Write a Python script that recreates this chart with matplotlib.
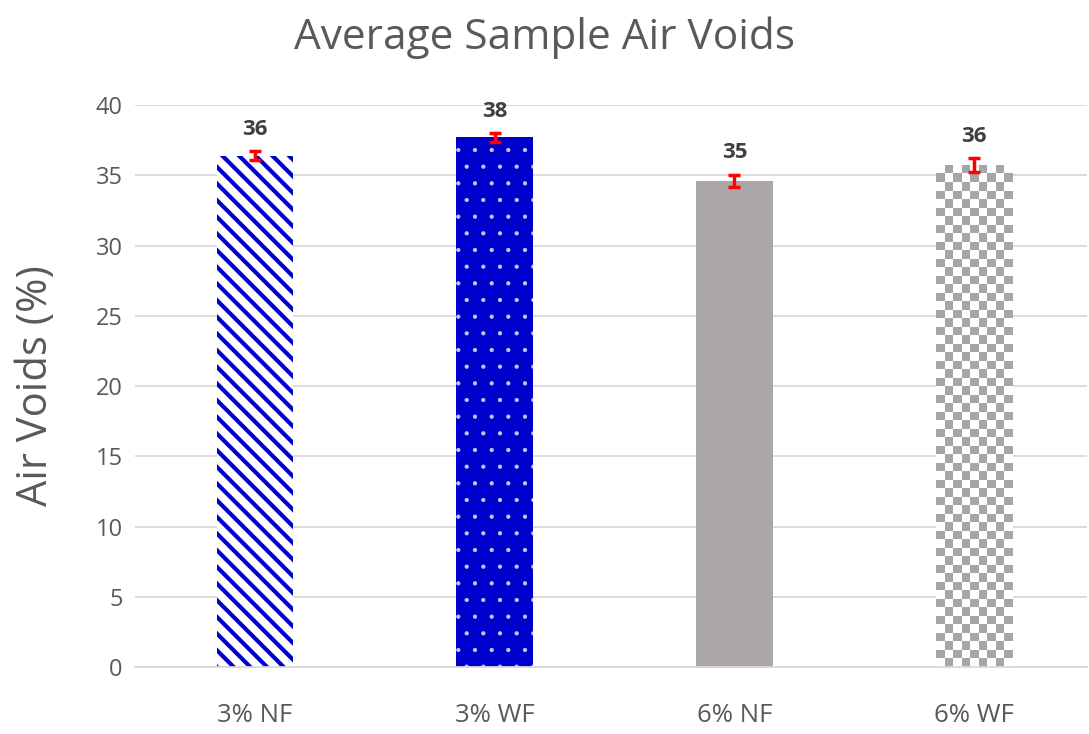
import numpy as np
import matplotlib
matplotlib.use("Agg")
import matplotlib.pyplot as plt

categories = ["3% NF", "3% WF", "6% NF", "6% WF"]
air_voids = [36.4, 37.7, 34.6, 35.7]
errors = [0.3, 0.3, 0.45, 0.5]
labels = ["36", "38", "35", "36"]

plt.rcParams['font.family'] = ['Open Sans', 'DejaVu Sans']

blue = "#0000CC"
grey = "#ABA7A7"
text_grey = "#595959"

fig, ax = plt.subplots(figsize=(10.89, 7.34), dpi=100)
fig.subplots_adjust(left=0.124, right=0.998, top=0.857, bottom=0.091)

x = np.arange(len(categories))
width = 0.32

bars = ax.bar(x, air_voids, width, zorder=2, linewidth=0)
# 3% NF: blue diagonal stripes on white
bars[0].set_facecolor("white")
bars[0].set_edgecolor(blue)
bars[0].set_hatch("\\\\")
# 3% WF: solid blue with white dots
bars[1].set_facecolor(blue)
bars[1].set_edgecolor("#C8C8F0")
bars[1].set_hatch(".")
# 6% NF: plain grey
bars[2].set_facecolor(grey)
# 6% WF: grey/white checkerboard
bars[3].set_facecolor("white")
if hasattr(bars[0], "set_hatch_linewidth"):
    bars[0].set_hatch_linewidth(3.0)
    bars[1].set_hatch_linewidth(0.6)
else:
    plt.rcParams['hatch.linewidth'] = 2.0

b = bars[3]
nrow, ncol = 59, 9
checker = (np.indices((nrow, ncol)).sum(axis=0) % 2).astype(float)
ax.imshow(checker, cmap=matplotlib.colors.ListedColormap(["white", "#A6A6A6"]),
          extent=(b.get_x(), b.get_x() + b.get_width(), 0, b.get_height()),
          aspect="auto", interpolation="nearest", zorder=2, clip_path=b, origin="upper")

ax.errorbar(x, air_voids, yerr=errors, fmt="none", ecolor="#FF0000",
            elinewidth=2.5, capsize=4, capthick=2.5, zorder=3)

for xi, v, e, lab in zip(x, air_voids, errors, labels):
    ax.text(xi, v + e + 0.8, lab, ha="center", va="bottom", fontsize=16,
            fontweight="bold", color="#404040", zorder=4)

ax.set_xlim(-0.5, 3.47)
ax.set_ylim(0, 40)
ax.set_yticks(np.arange(0, 41, 5))
ax.set_xticks(x)
ax.set_xticklabels(categories)
ax.tick_params(axis="both", length=0, labelcolor=text_grey)
ax.tick_params(axis="y", labelsize=17, pad=9)
ax.tick_params(axis="x", labelsize=18.5, pad=26)
ax.yaxis.grid(True, color="#D9D9D9", linewidth=1.3, zorder=0)
ax.set_axisbelow(True)
for side in ["top", "right", "left"]:
    ax.spines[side].set_visible(False)
ax.spines["bottom"].set_color("#D9D9D9")
ax.spines["bottom"].set_linewidth(1.3)

ax.set_ylabel("Air Voids (%)", fontsize=30, color=text_grey)
ax.yaxis.set_label_coords(-0.082, 0.5)
fig.text(0.5, 0.948, "Average Sample Air Voids", fontsize=30.5, color=text_grey,
         ha="center", va="center")

fig.savefig("out.png", dpi=100)
